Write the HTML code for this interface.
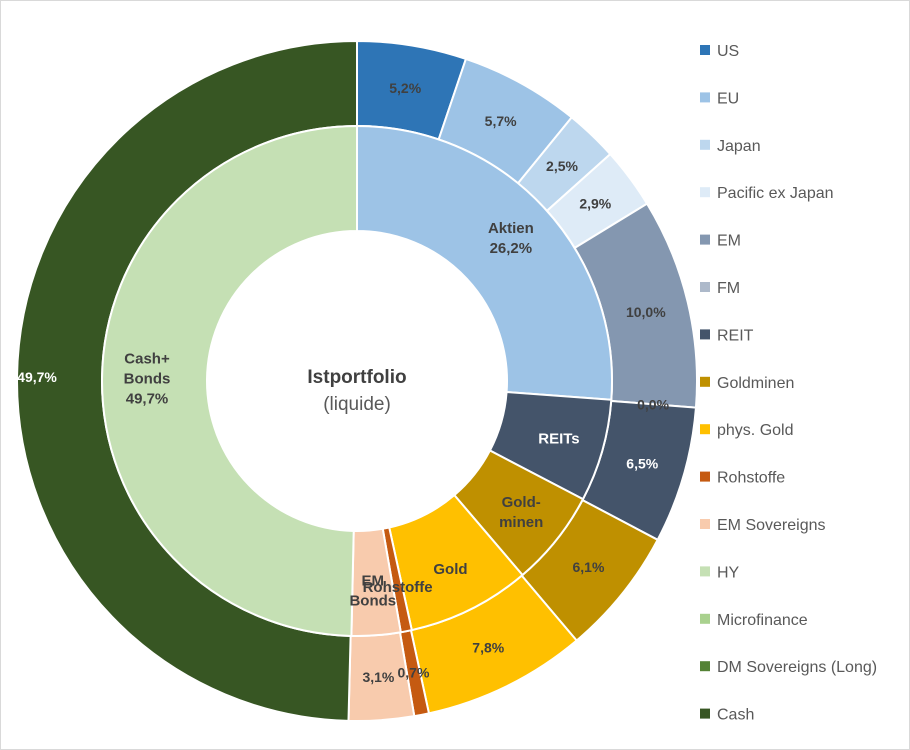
<!DOCTYPE html>
<html><head><meta charset="utf-8"><style>
html,body{margin:0;padding:0;background:#fff;}
#wrap{width:908px;height:748px;border:1px solid #d9d9d9;position:relative;overflow:hidden;font-family:"Liberation Sans",sans-serif;}
svg{position:absolute;left:0;top:0;}
</style></head><body>
<div id="wrap">
<svg id="chart" width="910" height="750"></svg>
</div>
<script>
const outerCategories=["US","EU","Japan","Pacific ex Japan","EM","FM","REIT","Goldminen","phys. Gold","Rohstoffe","EM Sovereigns","HY","Microfinance","DM Sovereigns (Long)","Cash"];
const outerValues=[5.2,5.7,2.5,2.9,10.0,0.0,6.5,6.1,7.8,0.7,3.1,0,0,0,49.7];
const outerLabels=["5,2%","5,7%","2,5%","2,9%","10,0%","0,0%","6,5%","6,1%","7,8%","0,7%","3,1%","","","","49,7%"];
const outerColors=["#2E75B6","#9DC3E6","#BDD7EE","#DEEBF7","#8497B0","#ADB9CA","#44546A","#BF9000","#FFC000","#C55A11","#F8CBAD","#C5E0B4","#A9D18E","#548235","#375623"];
const innerCategories=["Aktien","REITs","Gold-|minen","Gold","Rohstoffe","EM|Bonds","Cash+|Bonds"];
const innerValues=[26.2,6.5,6.1,7.8,0.7,3.1,49.7];
const innerLabels=["26,2%","","","","","","49,7%"];
const innerColors=["#9DC3E6","#44546A","#BF9000","#FFC000","#C55A11","#F8CBAD","#C5E0B4"];

const NS="http://www.w3.org/2000/svg";
const svg=document.getElementById("chart");
const cx=356,cy=380;
function pt(r,a){return [cx+r*Math.sin(a),cy-r*Math.cos(a)];}
function arc(r0,r1,a0,a1){
  const large=(a1-a0)>Math.PI?1:0;
  const [x0,y0]=pt(r1,a0),[x1,y1]=pt(r1,a1),[x2,y2]=pt(r0,a1),[x3,y3]=pt(r0,a0);
  return `M${x0},${y0}A${r1},${r1} 0 ${large} 1 ${x1},${y1}L${x2},${y2}A${r0},${r0} 0 ${large} 0 ${x3},${y3}Z`;
}
function mk(tag,attrs){const e=document.createElementNS(NS,tag);for(const k in attrs)e.setAttribute(k,attrs[k]);svg.appendChild(e);return e;}
function ring(vals,cols,r0,r1,name){
  const tot=vals.reduce((a,b)=>a+b,0);let acc=0;const mids=[];
  vals.forEach((v,i)=>{
    const a0=acc/tot*2*Math.PI;acc+=v;const a1=acc/tot*2*Math.PI;
    mids.push((a0+a1)/2);
    if(v>0){
      const p=mk("path",{d:arc(r0,r1,a0,a1),fill:cols[i],stroke:"#fff","stroke-width":2});
      
      
    }
  });
  return mids;
}
const om=ring(outerValues,outerColors,255,340,"outer");
const im=ring(innerValues,innerColors,150,255,"inner");
function txt(x,y,s,opt){
  const t=mk("text",{x:x,y:y,"text-anchor":"middle","font-size":opt.size||13,"font-weight":opt.w||"bold",fill:opt.fill||"#404040"});
  t.textContent=s;
  
  
  return t;
}
outerLabels.forEach((l,i)=>{
  if(!l)return;
  const [x,y]=pt(i===14?320:297,om[i]);
  txt(x,y+5,l,{size:14,fill:(i===14||i===6)?"#fff":"#404040",name:"outer-label-"+i});
});
innerCategories.forEach((c,i)=>{
  const lines=c.split("|");if(innerLabels[i])lines.push(innerLabels[i]);
  const [x,y]=pt(210,im[i]);
  const y0=y-(lines.length-1)*10+5;
  lines.forEach((ln,j)=>txt(x,y0+j*20,ln,{size:15,fill:i===1?"#fff":"#404040",name:"inner-label-"+i}));
});
txt(cx,382,"Istportfolio",{size:19,fill:"#404040",name:"center-title"});
txt(cx,409,"(liquide)",{size:19,w:"normal",fill:"#595959",name:"center-subtitle"});
outerCategories.forEach((c,i)=>{
  const y=49+i*47.4;
  const r=mk("rect",{x:699,y:y-5,width:10,height:10,fill:outerColors[i]});
  
  
  const t=mk("text",{x:716,y:y+6,"font-size":16,fill:"#595959"});
  t.textContent=c;
  
  
});
</script>
</body></html>
